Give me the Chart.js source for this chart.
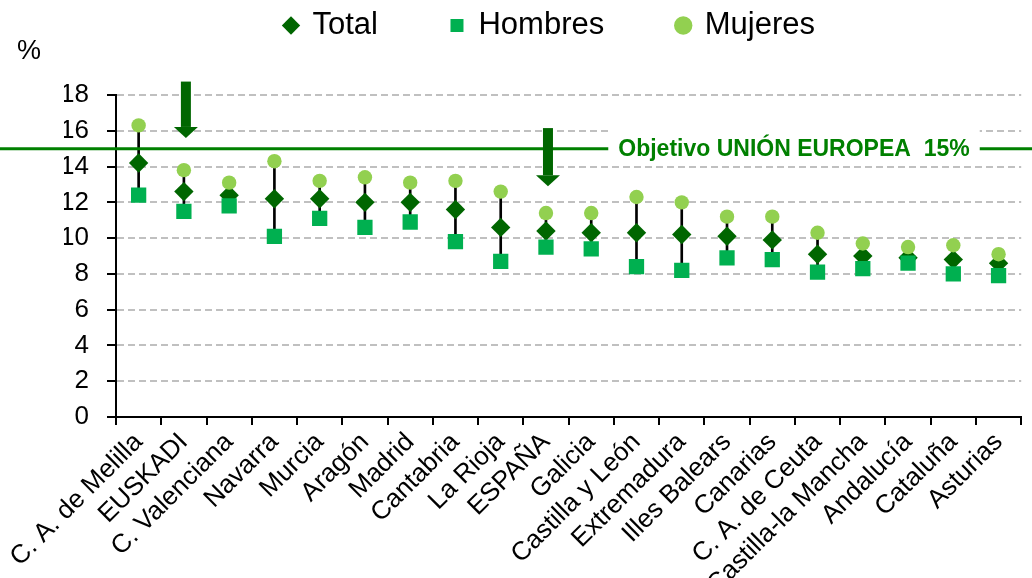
<!DOCTYPE html>
<html>
<head>
<meta charset="utf-8">
<script src="https://cdn.jsdelivr.net/npm/chart.js@4/dist/chart.umd.min.js"></script>
<style>
html,body{margin:0;padding:0;background:#fff;}
#wrap{width:1032px;height:578px;position:relative;}
</style>
</head>
<body>
<div id="wrap"><canvas id="c"></canvas></div>
<script>
const categories = ['C. A. de Melilla','EUSKADI','C. Valenciana','Navarra','Murcia','Aragón','Madrid','Cantabria','La Rioja','ESPAÑA','Galicia','Castilla y León','Extremadura','Illes Balears','Canarias','C. A. de Ceuta','Castilla-la Mancha','Andalucía','Cataluña','Asturias'];
const total   = [14.2, 12.6, 12.4, 12.2, 12.2, 12.0, 12.0, 11.6, 10.6, 10.4, 10.3, 10.3, 10.2, 10.1, 9.9, 9.1, 9.0, 8.9, 8.8, 8.6];
const hombres = [12.4, 11.5, 11.8, 10.1, 11.1, 10.6, 10.9, 9.8, 8.7, 9.5, 9.4, 8.4, 8.2, 8.9, 8.8, 8.1, 8.3, 8.6, 8.0, 7.9];
const mujeres = [16.3, 13.8, 13.1, 14.3, 13.2, 13.4, 13.1, 13.2, 12.6, 11.4, 11.4, 12.3, 12.0, 11.2, 11.2, 10.3, 9.7, 9.5, 9.6, 9.1];
const yTicks = [0, 2, 4, 6, 8, 10, 12, 14, 16, 18];
const objetivoValue = 15;
const objetivoText = 'Objetivo UNIÓN EUROPEA  15%';
const arrowCategories = ['EUSKADI', 'ESPAÑA'];
const arrowTop = [18.75, 16.15];
const arrowTip = [15.6, 12.9];

const FONT = "'Liberation Sans', Arial, sans-serif";
const LEGEND_GAP = 73;

const legendPatchPlugin = {
  id: 'legendPatch',
  beforeLayout(chart) {
    const lg = chart.legend;
    if (lg && !lg._patched) {
      const origFit = lg.fit;
      lg.fit = function () { origFit.call(this); this.height = 95; };
      const origDraw = lg._draw;
      lg._draw = function () {
        const ctx = this.ctx;
        ctx.save();
        ctx.translate(3, -(LEGEND_GAP - 10));
        origDraw.call(this);
        ctx.restore();
      };
      lg._patched = true;
    }
  }
};

const annotPlugin = {
  id: 'annot',
  afterDatasetsDraw(chart) {
    const ctx = chart.ctx;
    const x = chart.scales.x, y = chart.scales.y;
    ctx.save();
    // objective line
    const yo = y.getPixelForValue(objetivoValue);
    ctx.strokeStyle = '#008000';
    ctx.lineWidth = 3;
    ctx.beginPath();
    ctx.moveTo(0, yo);
    ctx.lineTo(chart.width, yo);
    ctx.stroke();
    // label box
    ctx.font = 'bold 23px ' + FONT;
    const tw = ctx.measureText(objetivoText).width;
    const cx = 794;
    ctx.fillStyle = '#ffffff';
    ctx.fillRect(cx - tw / 2 - 10, yo - 20, tw + 20, 37);
    ctx.fillStyle = '#008000';
    ctx.textAlign = 'center';
    ctx.textBaseline = 'middle';
    ctx.fillText(objetivoText, cx, yo + 1);
    // arrows
    ctx.fillStyle = '#006600';
    arrowCategories.forEach((cat, i) => {
      const ax = x.getPixelForValue(categories.indexOf(cat)) + 2;
      const yt = y.getPixelForValue(arrowTop[i]);
      const yb = y.getPixelForValue(arrowTip[i]);
      const headH = 11, shaftW = 10, headW = 24;
      ctx.fillRect(ax - shaftW / 2, yt, shaftW, (yb - headH) - yt);
      ctx.beginPath();
      ctx.moveTo(ax - headW / 2, yb - headH);
      ctx.lineTo(ax + headW / 2, yb - headH);
      ctx.lineTo(ax, yb);
      ctx.closePath();
      ctx.fill();
    });
    // % label
    ctx.fillStyle = '#000';
    ctx.font = '27px ' + FONT;
    ctx.textAlign = 'left';
    ctx.textBaseline = 'middle';
    ctx.fillText('%', 17, 52);
    ctx.restore();
  }
};

new Chart(document.getElementById('c'), {
  type: 'bar',
  data: {
    labels: categories,
    datasets: [
      {
        type: 'line', label: 'Total', data: total, showLine: false, order: 2,
        pointStyle: 'rectRot', pointRadius: 9.7, pointBackgroundColor: '#006600',
        pointBorderWidth: 0, borderColor: '#006600', backgroundColor: '#006600'
      },
      {
        type: 'line', label: 'Hombres', data: hombres, showLine: false, order: 1,
        pointStyle: 'rect', pointRadius: 10.8, pointBackgroundColor: '#00B050',
        pointBorderWidth: 0, borderColor: '#00B050', backgroundColor: '#00B050'
      },
      {
        type: 'line', label: 'Mujeres', data: mujeres, showLine: false, order: 0,
        pointStyle: 'circle', pointRadius: 7.2, pointBackgroundColor: '#92D050',
        pointBorderWidth: 0, borderColor: '#92D050', backgroundColor: '#92D050'
      },
      {
        type: 'bar', label: 'rango', data: hombres.map((h, i) => [h, mujeres[i]]), order: 3,
        backgroundColor: '#000000', borderWidth: 0, barThickness: 2
      }
    ]
  },
  options: {
    responsive: true,
    maintainAspectRatio: false,
    animation: false,
    events: [],
    layout: { padding: { left: 64, right: 2, top: 0, bottom: 0 } },
    plugins: {
      tooltip: { enabled: false },
      title: { display: false },
      legend: {
        display: true,
        position: 'top',
        reverse: true,
        labels: {
          usePointStyle: true,
          boxWidth: 12,
          boxHeight: 13,
          padding: LEGEND_GAP,
          color: '#000',
          font: { family: FONT, size: 31 },
          filter: (item) => item.text !== 'rango'
        }
      }
    },
    scales: {
      x: {
        offset: true,
        grid: { display: true, drawOnChartArea: false, drawTicks: true, tickLength: 8, color: '#000', lineWidth: 2, offset: true },
        border: { display: true, color: '#000', width: 2 },
        ticks: {
          autoSkip: false, minRotation: 45, maxRotation: 45, padding: 2,
          color: '#000', font: { family: FONT, size: 26 }
        },
        afterFit: (s) => { s.height = 161; s.paddingLeft = 0; s.paddingRight = 0; }
      },
      y: {
        min: 0, max: 18,
        afterBuildTicks: (s) => { s.ticks = yTicks.map(v => ({ value: v })); },
        grid: { color: '#c0c0c0', lineWidth: 2, tickColor: '#000', tickLength: 9, tickWidth: 2, drawTicks: true },
        border: { display: true, color: '#000', width: 2, dash: [7, 4] },
        ticks: { padding: 18, color: '#000', font: { family: FONT, size: 26 } },
        afterFit: (s) => { s.width = 52; s.paddingTop = 0; s.paddingBottom = 0; }
      }
    }
  },
  plugins: [legendPatchPlugin, annotPlugin]
});
</script>
</body>
</html>
